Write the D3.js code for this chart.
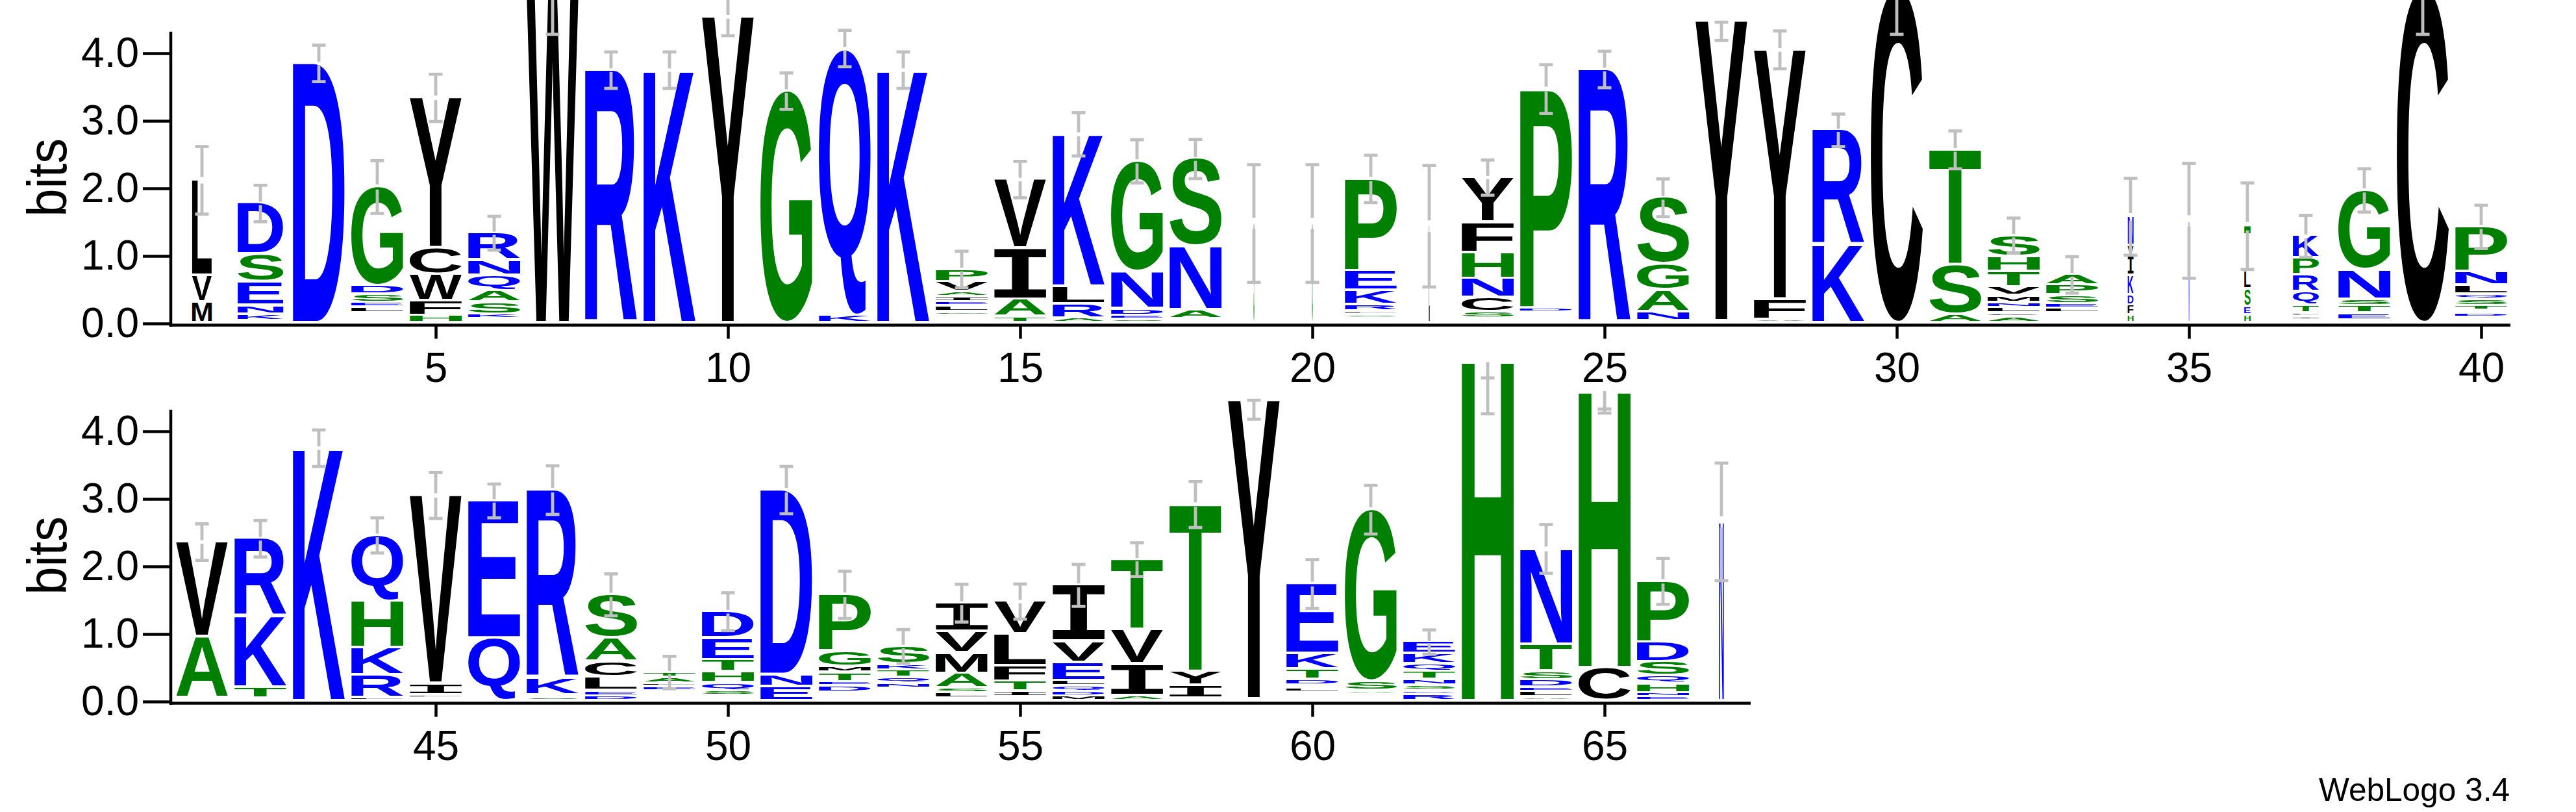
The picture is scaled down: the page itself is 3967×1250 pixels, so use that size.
<!DOCTYPE html>
<html><head><meta charset="utf-8">
<script src="https://cdn.jsdelivr.net/npm/d3@7"></script>
<style>html,body{margin:0;padding:0;background:#fff;} svg{display:block}</style>
</head><body>
<svg id="chart" width="3967" height="1250"></svg>
<script>
// ---------- DATA (letter:bits, bottom -> top) ----------
const stacksRow1 = [
"M:.31 V:.39 L:1.42",
"G:.03 K:.096 N:.13 E:.35 S:.41 D:.76",
"D:3.85",
"A:.035 N:.035 K:.035 R:.035 L:.09 E:.07 S:.12 D:.13 G:1.47",
"H:.11 F:.22 W:.39 C:.39 Y:2.23",
"G:.027 D:.027 K:.072 S:.18 A:.17 Q:.23 N:.22 R:.41",
"W:4.9",
"R:3.75",
"K:3.75",
"Y:4.54",
"G:3.44",
"K:.115 Q:3.955",
"K:3.75",
"T:.035 D:.035 N:.035 G:.055 L:.09 E:.06 I:.07 A:.08 V:.15 P:.19",
"T:.09 A:.26 I:.76 V:1.02",
"A:.07 R:.21 L:.26 K:2.26",
"S:.05 E:.06 D:.10 N:.55 G:1.64",
"D:.027 G:.027 A:.141 N:.94 S:1.30",
"S:1.48",
"G:1.48",
"T:.035 N:.035 S:.054 L:.046 R:.10 K:.21 E:.29 P:1.37",
"L:1.44",
"A:.032 G:.032 S:.096 C:.215 N:.28 H:.385 F:.45 Y:.67",
"A:.04 S:.04 T:.04 G:.037 D:.061 P:3.252",
"R:3.76",
"T:.03 N:.13 A:.325 G:.385 S:.99",
"I:.03 Y:4.45",
"A:.05 F:.30 Y:3.70",
"K:1.15 R:1.71",
"C:4.95",
"A:.126 S:.734 T:1.71",
"A:.09 C:.05 L:.08 N:.08 M:.10 V:.13 T:.23 H:.22 S:.32",
"K:.035 D:.035 N:.035 R:.035 L:.07 E:.07 S:.13 P:.15 A:.16",
"H:.115 F:.145 D:.15 K:.29 I:.29 V:.15 N:.44",
"N:1.52",
"H:.115 E:.125 S:.26 L:.27 T:.67",
"A:.04 I:.052 L:.054 T:.114 Q:.20 R:.25 P:.25 K:.33",
"D:.037 E:.103 T:.11 S:.10 N:.44 G:1.18",
"C:4.95",
"K:.039 R:.039 D:.062 E:.04 T:.07 S:.10 Q:.07 L:.14 N:.20 P:.67"
];
const stacksRow2 = [
"G:.04 A:.91 V:1.41",
"L:.04 T:.16 K:1.05 R:1.16",
"K:3.75",
"L:.045 R:.335 K:.41 H:.69 Q:.98",
"F:.04 L:.05 I:.17 V:2.79",
"Q:.93 E:2.04",
"S:.05 N:.04 K:.25 R:2.79",
"D:.07 E:.08 L:.20 C:.23 A:.35 S:.65",
"K:.036 R:.036 N:.036 G:.036 E:.066 L:.05 A:.09 T:.08",
"K:.04 R:.039 S:.071 Q:.12 H:.16 T:.18 E:.32 D:.40",
"E:.21 N:.18 D:2.74",
"K:.042 R:.042 N:.042 D:.094 E:.06 T:.14 M:.09 G:.23 P:.84",
"R:.036 E:.036 D:.036 G:.036 A:.036 N:.075 Q:.09 T:.11 K:.09 S:.27",
"C:.035 L:.082 S:.07 A:.22 M:.30 V:.32 I:.43",
"C:.03 S:.03 I:.08 T:.15 F:.23 L:.47 V:.49",
"M:.07 D:.07 Q:.08 L:.08 E:.27 V:.31 I:.84",
"A:.08 I:.47 V:.51 T:1.04",
"A:.036 I:.19 Y:.21 T:2.48",
"E:.03 Y:4.43",
"R:.042 Q:.042 N:.042 L:.064 S:.04 D:.09 T:.15 K:.23 E:1.04",
"D:.03 L:.035 C:.035 A:.05 S:.14 G:2.55",
"R:.10 D:.05 S:.08 N:.09 T:.12 Q:.11 K:.15 E:.18",
"H:5.05",
"A:.053 L:.082 E:.065 D:.11 S:.13 T:.40 N:1.42",
"C:.49 H:4.11",
"E:.06 N:.06 H:.14 Q:.11 S:.21 D:.29 P:.91",
"N:2.66"
];
// error bars: half-width around stack top, or explicit [low, high] in bits
const errRow1 = [.5,.27,.27,.39,.35,.25,[4.28,5.5],.27,.27,.28,.27,.27,.27,.27,.27,.32,.32,.29,.87,.87,
                 .35,.90,.26,.36,.27,.28,[4.19,4.46],.28,.24,[4.28,5.6],.28,.26,.27,.57,.85,.64,.31,.32,[4.28,5.6],.32];
const errRow2 = [.27,.27,.27,.26,.34,.25,.36,.31,.24,.28,.35,.35,.25,.28,.26,.31,.25,.34,[4.18,4.46],
                 .36,.36,.18,[4.26,4.79],.36,[4.27,4.33],.34,.87];
// column width (fraction of occupancy)
const widthRow1 = [.38,.88,1,1,1,1,1,1,1,1, 1,1,1,1,1,1,1,1,.015,.015, 1,.015,1,1,1,1,1,1,1,1, 1,1,1,.11,.015,.12,.5,1,1,1];
const widthRow2 = [1,1,1,1,1,1,1,1,1,1, 1,1,1,1,1,1,1,1,1,1, 1,1,1,1,1,1,.09];
const firstPosRow1 = 1, firstPosRow2 = 41;
const yMajorTicks = [0,1,2,3,4];
const yTickLabels = ["0.0","1.0","2.0","3.0","4.0"];
const yMax = 4.32;

// ---------- STYLE / LAYOUT ----------
const FONT = "'Liberation Sans', Arial, Helvetica, sans-serif";
const PX_PER_BIT = 104, PAD = 4, GAP_PER_BIT = 10;
const X0 = 266, STEP = 90, LETTER_W = 80, AXIS_X = 263, STROKE = 4.5;
const ERR_COLOR = "#bfbfbf", ERR_W = 4.8, CAP_W = 21;
const colorOf = c => "RKDENQ".includes(c) ? "#0000ff" : ("SGHTAP".includes(c) ? "#008000" : "#000000");
const glyphFont = c => c === "I" ? "'Liberation Mono', 'DejaVu Sans Mono', monospace" : "'Liberation Sans', Arial, sans-serif";

const svg = d3.select("#chart");
svg.append("rect").attr("width",3967).attr("height",1250).attr("fill","#fff");

const ctx = document.createElement("canvas").getContext("2d");
const inkCache = {};
function ink(c){
  if(!inkCache[c]){
    ctx.font = "bold 200px " + glyphFont(c);
    const m = ctx.measureText(c);
    inkCache[c] = {l:m.actualBoundingBoxLeft, r:m.actualBoundingBoxRight, a:m.actualBoundingBoxAscent, d:m.actualBoundingBoxDescent};
  }
  return inkCache[c];
}
function parseStack(s){ return s.trim().split(/\s+/).map(t => { const [c,v] = t.split(":"); return {c, v:+v}; }); }

function drawGlyph(g, c, xl, yTop, w, h){
  const m = ink(c);
  const sx = w/(m.l+m.r), sy = h/(m.a+m.d);
  g.append("text")
    .attr("transform", `translate(${xl + m.l*sx},${yTop + m.a*sy}) scale(${sx},${sy})`)
    .attr("font-family", glyphFont(c)).attr("font-weight","bold").attr("font-size",200)
    .attr("fill", colorOf(c)).text(c);
}

const panels = [
  {stacks: stacksRow1, errs: errRow1, widths: widthRow1, first: firstPosRow1, base: 498},
  {stacks: stacksRow2, errs: errRow2, widths: widthRow2, first: firstPosRow2, base: 1080}
];

panels.forEach(p => {
  const n = p.stacks.length, last = p.first + n - 1;
  const positions = d3.range(p.first, last + 1);
  const x = d3.scaleLinear().domain([p.first - 0.5, last + 0.5]).range([X0, X0 + n*STEP]);
  const y = d3.scaleLinear().domain([0, yMax]).range([p.base, p.base - yMax*PX_PER_BIT]);
  const axisY = p.base + STROKE/2 + 0.25;

  const gL = svg.append("g");
  const gE = svg.append("g");
  p.stacks.forEach((s, i) => {
    const pos = positions[i];
    const w = LETTER_W * p.widths[i];
    const xl = x(pos) - w/2;
    let cum = 0;
    parseStack(s).forEach(({c, v}) => {
      const y0 = y(cum), y1 = y(cum + v);
      cum += v;
      const h = (y0 - y1) - PAD;
      if (h < 0.4) return;
      drawGlyph(gL, c, xl, y1, w, h);
    });
    // error bar
    const eb = p.errs[i];
    let lo, hi;
    if (Array.isArray(eb)) { lo = eb[0]; hi = eb[1]; } else { lo = cum - eb; hi = cum + eb; }
    const gap = GAP_PER_BIT * (hi - lo) / 2;
    const yt = y(cum), xc = x(pos);
    const segs = [];
    if (y(lo) > yt + gap) segs.push([y(lo), yt + gap]);
    if (y(hi) < yt - gap) segs.push([yt - gap, y(hi)]);
    segs.forEach(([a,b]) => gE.append("line").attr("x1",xc).attr("x2",xc).attr("y1",a).attr("y2",b)
      .attr("stroke",ERR_COLOR).attr("stroke-width",ERR_W));
    [lo, hi].forEach(v => gE.append("line").attr("x1",xc-CAP_W/2).attr("x2",xc+CAP_W/2).attr("y1",y(v)).attr("y2",y(v))
      .attr("stroke",ERR_COLOR).attr("stroke-width",ERR_W));
  });

  // y axis
  const minorTicks = d3.range(0, 22).map(k => k/5);
  const ga = svg.append("g").attr("transform", `translate(${AXIS_X},0)`);
  ga.call(d3.axisLeft(y).tickValues(minorTicks).tickSize(21).tickFormat(""));
  ga.call(d3.axisLeft(y).tickValues(yMajorTicks).tickSize(43).tickPadding(6).tickFormat((d,i)=>yTickLabels[i]));
  ga.selectAll(".domain").remove();
  ga.selectAll("line").attr("stroke","#000").attr("stroke-width",STROKE);
  ga.selectAll("text").attr("font-family",FONT).attr("font-size",64).attr("fill","#000");
  svg.append("line").attr("x1",AXIS_X).attr("x2",AXIS_X).attr("y1",y(yMax)).attr("y2",axisY+STROKE/2)
    .attr("stroke","#000").attr("stroke-width",STROKE);

  // x axis
  const gx = svg.append("g").attr("transform", `translate(0,${axisY})`);
  gx.call(d3.axisBottom(x).tickValues(positions).tickSize(9.5).tickFormat(""));
  const majors = positions.filter(d => d % 5 === 0);
  gx.call(d3.axisBottom(x).tickValues(majors).tickSize(21).tickFormat(d => String(d)));
  gx.selectAll(".domain").remove();
  gx.selectAll("line").attr("stroke","#000").attr("stroke-width",STROKE);
  gx.selectAll("text").attr("font-family",FONT).attr("font-size",64).attr("fill","#000")
    .attr("y", 87.5).attr("dy", null);
  svg.append("line").attr("x1",AXIS_X-STROKE/2).attr("x2",x(last+0.5)).attr("y1",axisY).attr("y2",axisY)
    .attr("stroke","#000").attr("stroke-width",STROKE);

  // bits label
  svg.append("text").attr("transform", `translate(102,${(y(0)+y(yMax))/2}) rotate(-90)`)
    .attr("text-anchor","middle").attr("font-family",FONT).attr("font-size",86)
    .attr("textLength",121).attr("lengthAdjust","spacingAndGlyphs").text("bits");
});

svg.append("text").attr("x",3571).attr("y",1233).attr("font-family",FONT).attr("font-size",50)
  .attr("textLength",294).attr("lengthAdjust","spacingAndGlyphs").text("WebLogo 3.4");
</script>
</body></html>
